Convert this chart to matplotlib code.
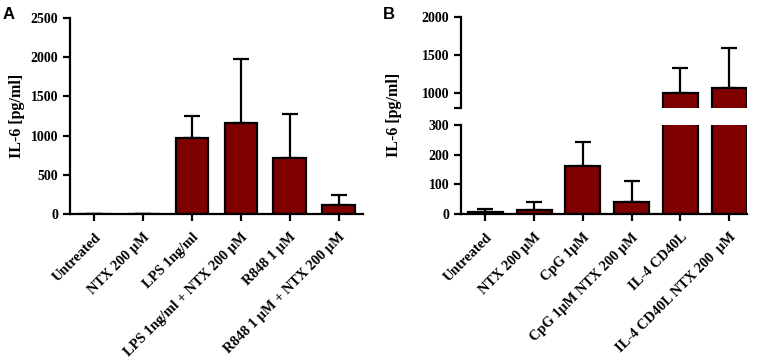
import numpy as np
import matplotlib.pyplot as plt

plt.rcParams['font.family'] = 'Liberation Serif'
plt.rcParams['font.weight'] = 'bold'

# panel A data
labels_a = ['Untreated', 'NTX 200 \u03bcM', 'LPS 1ng/ml', 'LPS 1ng/ml + NTX 200 \u03bcM',
            'R848 1 \u03bcM', 'R848 1 \u03bcM + NTX 200 \u03bcM']
means_a = [0, 0, 975, 1160, 720, 115]
sd_a = [0, 0, 280, 820, 555, 122]

# panel B data
labels_b = ['Untreated', 'NTX 200 \u03bcM', 'CpG 1\u03bcM', 'CpG 1\u03bcM NTX 200 \u03bcM',
            'IL-4 CD40L', 'IL-4 CD40L NTX 200  \u03bcM']
means_b = [8, 12, 161, 41, 1005, 1065]
sd_b = [8, 27, 84, 72, 332, 535]

bar_color = '#7f0000'
lw = 1.6


def style_axis(ax):
    for s in ['top', 'right']:
        ax.spines[s].set_visible(False)
    for s in ['left', 'bottom']:
        ax.spines[s].set_linewidth(lw)
    ax.tick_params(width=lw, length=5, direction='out', labelsize=10)
    ax.tick_params(axis='x', labelsize=10.4, pad=7)


def draw_bars(ax, x, means, sd, width):
    ax.bar(x, means, width=width, color=bar_color, edgecolor='black', linewidth=lw, zorder=2)
    ax.errorbar(x, means, yerr=[np.zeros(len(sd)), sd], fmt='none', ecolor='black',
                elinewidth=lw, capsize=6, capthick=lw, zorder=1)


fig = plt.figure(figsize=(7.58, 3.59), dpi=100)

# ---- A ----
ax_a = fig.add_axes([0.0923, 0.4039, 0.3865, 0.546])
x = np.arange(len(labels_a))
draw_bars(ax_a, x, means_a, sd_a, 0.67)
ax_a.set_xlim(-0.5, 5.5)
ax_a.set_ylim(0, 2500)
ax_a.set_yticks([0, 500, 1000, 1500, 2000, 2500])
style_axis(ax_a)
ax_a.set_xticks(x)
ax_a.set_xticklabels(labels_a, rotation=45, ha='right', rotation_mode='anchor')
ax_a.set_ylabel('IL-6 [pg/ml]', fontsize=11.5, fontweight='bold', labelpad=4)
fig.text(0.004, 0.948, 'A', fontsize=12, fontweight='bold', family='Liberation Sans')

# ---- B (broken axis) ----
xb = np.arange(len(labels_b))
ax_lo = fig.add_axes([0.6082, 0.4039, 0.377, 0.247])
ax_hi = fig.add_axes([0.6082, 0.6978, 0.377, 0.254])
for ax in (ax_lo, ax_hi):
    draw_bars(ax, xb, means_b, sd_b, 0.72)
    ax.set_xlim(-0.5, 5.36)
    style_axis(ax)
ax_lo.set_ylim(0, 300)
ax_lo.set_yticks([0, 100, 200, 300])
ax_lo.set_xticks(xb)
ax_lo.set_xticklabels(labels_b, rotation=45, ha='right', rotation_mode='anchor')
ax_hi.set_ylim(800, 2000)
ax_hi.set_yticks([800, 1000, 1500, 2000])
ax_hi.set_yticklabels(['', '1000', '1500', '2000'])
ax_hi.spines['bottom'].set_visible(False)
ax_hi.set_xticks([])
fig.text(0.52, 0.68, 'IL-6 [pg/ml]', rotation=90, fontsize=11.5, fontweight='bold',
         ha='center', va='center')
fig.text(0.505, 0.948, 'B', fontsize=12, fontweight='bold', family='Liberation Sans')

fig.savefig('out.png', dpi=100)
